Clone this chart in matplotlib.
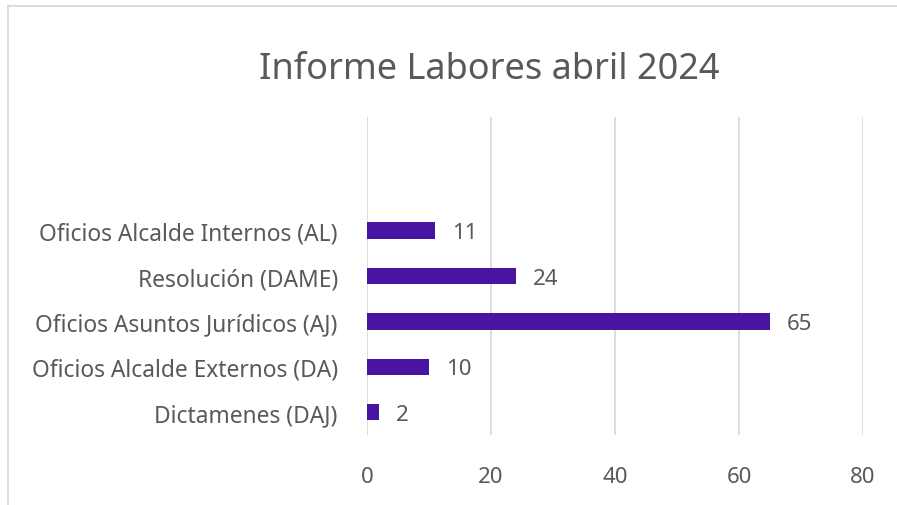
import matplotlib.pyplot as plt
from matplotlib.patches import Rectangle

# data (bottom to top)
categories = ['Dictamenes (DAJ)', 'Oficios Alcalde Externos (DA)',
              'Oficios Asuntos Jurídicos (AJ)', 'Resolución (DAME)',
              'Oficios Alcalde Internos (AL)']
values = [2, 10, 65, 24, 11]
x_ticks = [0, 20, 40, 60, 80]

title = 'Informe Labores abril 2024'
bar_color = '#4a14a3'
text_color = '#595959'
grid_color = '#d9d9d9'

plt.rcParams['font.family'] = ['Noto Sans', 'DejaVu Sans']

fig = plt.figure(figsize=(8.97, 5.06), dpi=100)
W, H = 897, 506
ax = fig.add_axes([367 / W, (H - 436) / H, (863 - 367) / W, (436 - 118) / H])

pos = list(range(len(categories)))
ax.barh(pos, values, height=0.36, color=bar_color)
for p, v in zip(pos, values):
    ax.annotate(str(v), (v, p), xytext=(12, -1.5), textcoords='offset points',
                va='center', ha='left', fontsize=16, color=text_color)

ax.set_xlim(0, 80)
ax.set_ylim(-0.5, 6.5)
ax.set_xticks(x_ticks)
ax.set_xticklabels([str(t) for t in x_ticks], fontsize=16, color=text_color)
ax.set_yticks(pos)
ax.set_yticklabels(categories, fontsize=16.4, color=text_color)
ax.tick_params(length=0)
ax.tick_params(axis='x', pad=22)
ax.tick_params(axis='y', pad=21)
ax.grid(axis='x', color=grid_color, linewidth=1.3)
ax.set_axisbelow(True)
for s in ax.spines.values():
    s.set_visible(False)

fig.text(489 / W, 1 - 70 / H, title, ha='center', va='center',
         fontsize=26, color=text_color)

# chart area frame
fig.add_artist(Rectangle((8 / W, -0.1), 1.2, 1 - 7 / H + 0.1,
                         transform=fig.transFigure, fill=False,
                         edgecolor=grid_color, linewidth=1.3))

fig.savefig('out.png', dpi=100)
